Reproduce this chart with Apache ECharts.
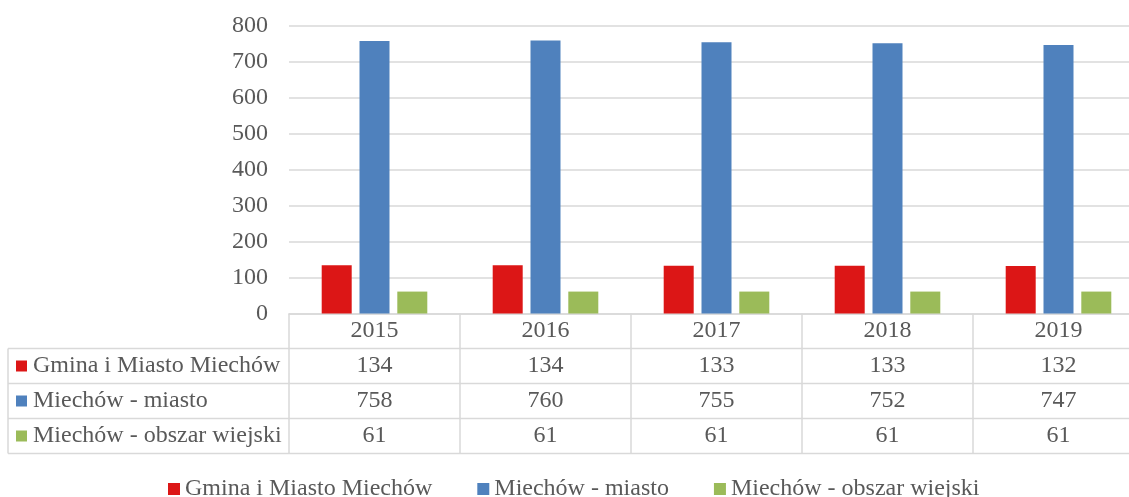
<!DOCTYPE html>
<html>
<head>
<meta charset="utf-8">
<script src="https://cdn.jsdelivr.net/npm/echarts@6/dist/echarts.min.js"></script>
<style>html,body{margin:0;padding:0;background:#fff;}#c{width:1129px;height:497px;}</style>
</head>
<body>
<div id="c"></div>
<script>
var years = ['2015', '2016', '2017', '2018', '2019'];
var seriesNames = ['Gmina i Miasto Miechów', 'Miechów - miasto', 'Miechów - obszar wiejski'];
var gmina = [134, 134, 133, 133, 132];
var miasto = [758, 760, 755, 752, 747];
var wiejski = [61, 61, 61, 61, 61];
var yTicks = [0, 100, 200, 300, 400, 500, 600, 700, 800];

var colors = ['#DC1616', '#4F81BD', '#9BBB59'];
var FONT = "'Liberation Serif', 'Times New Roman', serif";
var TXT = '#595959';
var LINE = '#d9d9d9';
var ROW_H = 35;
var FS = 24;

var allData = [gmina, miasto, wiejski];

function rowAxis(i) {
  return {
    type: 'category', gridIndex: 0, position: 'bottom', offset: ROW_H * (i + 1),
    data: allData[i].map(String),
    axisLine: {show: false}, axisTick: {show: false},
    axisLabel: {margin: ROW_H / 2, verticalAlign: 'middle', fontFamily: FONT, fontSize: FS, color: TXT, interval: 0}
  };
}

var chart = echarts.init(document.getElementById('c'));
var option = {
  animation: false,
  color: colors,
  grid: {left: 289, width: 855, top: 26, bottom: 183.5, containLabel: false, outerBoundsMode: 'none'},
  legend: {
    data: seriesNames, left: 168, top: 477, padding: 0,
    itemWidth: 12, itemHeight: 12, itemGap: 45, icon: 'rect',
    textStyle: {fontFamily: FONT, fontSize: FS, color: TXT}
  },
  xAxis: [
    {
      type: 'category', data: years, gridIndex: 0, position: 'bottom',
      axisLine: {show: true, lineStyle: {color: LINE, width: 1.5}},
      axisTick: {show: true, length: ROW_H * 4, lineStyle: {color: LINE, width: 1.5}},
      axisLabel: {margin: ROW_H / 2, verticalAlign: 'middle', fontFamily: FONT, fontSize: FS, color: TXT}
    },
    rowAxis(0), rowAxis(1), rowAxis(2)
  ],
  yAxis: {
    type: 'value', min: yTicks[0], max: yTicks[yTicks.length - 1], interval: yTicks[1] - yTicks[0],
    axisLine: {show: false}, axisTick: {show: false},
    splitLine: {lineStyle: {color: LINE, width: 1.5}},
    axisLabel: {margin: 21, fontFamily: FONT, fontSize: FS, color: TXT}
  },
  series: seriesNames.map(function (n, i) {
    return {name: n, type: 'bar', data: allData[i], barWidth: 30, barGap: '26%', xAxisIndex: 0};
  })
};
chart.setOption(option);

var y0 = chart.convertToPixel({yAxisIndex: 0}, 0);
var W = chart.getWidth();
var g = [];
for (var k = 1; k <= 4; k++) {
  g.push({type: 'line', shape: {x1: 8, y1: y0 + ROW_H * k, x2: W, y2: y0 + ROW_H * k},
          style: {stroke: LINE, lineWidth: 1.5}, silent: true});
}
g.push({type: 'line', shape: {x1: 8, y1: y0 + ROW_H, x2: 8, y2: y0 + ROW_H * 4},
        style: {stroke: LINE, lineWidth: 1.5}, silent: true});
seriesNames.forEach(function (n, i) {
  var cy = y0 + ROW_H * (i + 1) + ROW_H / 2;
  g.push({type: 'rect', shape: {x: 16, y: cy - 5.5, width: 11, height: 11}, style: {fill: colors[i]}, silent: true});
  g.push({type: 'text', x: 33, y: cy, style: {text: n, font: FS + 'px ' + FONT, fill: TXT, verticalAlign: 'middle', align: 'left'}, silent: true});
});
chart.setOption({graphic: g});
</script>
</body>
</html>
